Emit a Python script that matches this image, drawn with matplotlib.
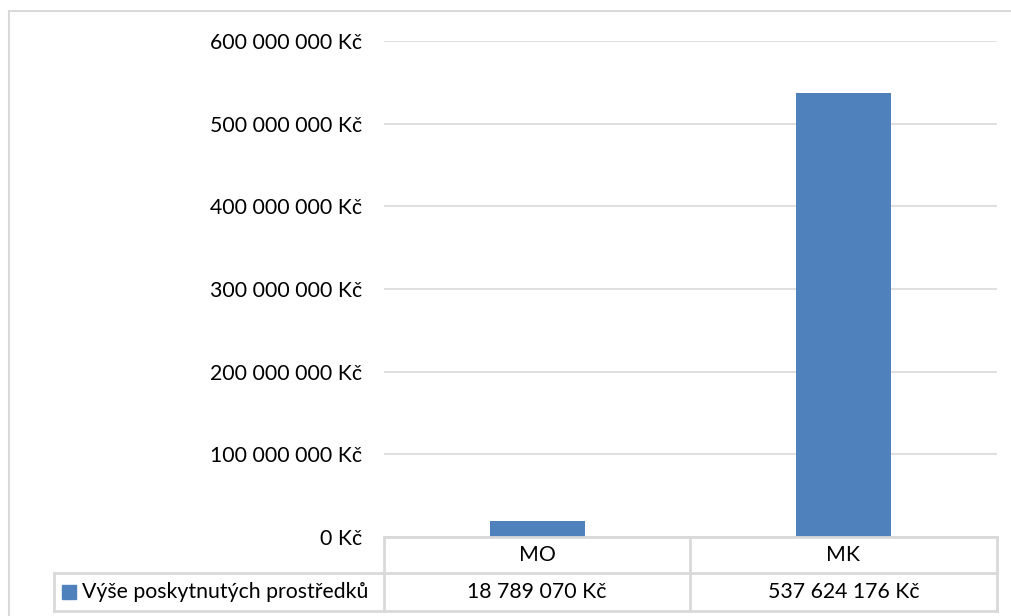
import matplotlib.pyplot as plt
from matplotlib.patches import Rectangle
from matplotlib.lines import Line2D

plt.rcParams['font.family'] = ['Lato', 'DejaVu Sans']

categories = ['MO', 'MK']
values = [18789070, 537624176]
value_labels = ['18 789 070 Kč', '537 624 176 Kč']
series_name = 'Výše poskytnutých prostředků'
yticks = [0, 100000000, 200000000, 300000000, 400000000, 500000000, 600000000]
ytick_labels = ['0 Kč', '100 000 000 Kč', '200 000 000 Kč', '300 000 000 Kč',
                '400 000 000 Kč', '500 000 000 Kč', '600 000 000 Kč']

W, H = 1011, 616
bar_color = '#4f81bd'
grid_color = '#d9d9d9'
fs = 15.3

fig = plt.figure(figsize=(W / 100, H / 100), dpi=100)

def fx(px):
    return px / W

def fy(py):
    return 1 - py / H

# chart area border
fig.patches.append(Rectangle((fx(8.5), fy(640)), fx(1100), fy(11) - fy(640),
                             transform=fig.transFigure, fill=False,
                             edgecolor=grid_color, lw=1.5))

ax = fig.add_axes([fx(384), fy(537), fx(997) - fx(384), fy(41) - fy(537)])
x = range(len(categories))
ax.bar(x, values, width=0.31, color=bar_color, zorder=3)
ax.set_xlim(-0.5, len(categories) - 0.5)
ax.set_ylim(0, 600000000)
ax.set_yticks(yticks)
ax.set_yticklabels(ytick_labels, fontsize=fs)
ax.tick_params(axis='y', length=0, pad=16)
ax.set_xticks([])
ax.grid(axis='y', color=grid_color, lw=1.2, zorder=0)
for s in ax.spines.values():
    s.set_visible(False)

# data table
top, mid, bot = 537, 573, 611
left_lbl, c0, c1, c2 = 54, 384, 690, 997
lines = [
    ((c0, c2), (top, top)),
    ((left_lbl, c2), (mid, mid)),
    ((left_lbl, c2), (bot, bot)),
    ((left_lbl, left_lbl), (mid, bot)),
    ((c0, c0), (top, bot)),
    ((c1, c1), (top, bot)),
    ((c2, c2), (top, bot)),
]
for xs, ys in lines:
    fig.add_artist(Line2D([fx(v) for v in xs], [fy(v) for v in ys],
                          color=grid_color, lw=2, transform=fig.transFigure))

cols = [(c0 + c1) / 2, (c1 + c2) / 2]
for cx, cat, lab in zip(cols, categories, value_labels):
    fig.text(fx(cx), fy((top + mid) / 2), cat, ha='center', va='center', fontsize=fs)
    fig.text(fx(cx), fy((mid + bot) / 2), lab, ha='center', va='center', fontsize=fs)

fig.patches.append(Rectangle((fx(62), fy(599)), fx(14), fy(585) - fy(599),
                             transform=fig.transFigure, color=bar_color))
fig.text(fx(82), fy((mid + bot) / 2), series_name, ha='left', va='center', fontsize=fs)

fig.savefig('out.png', dpi=100)
